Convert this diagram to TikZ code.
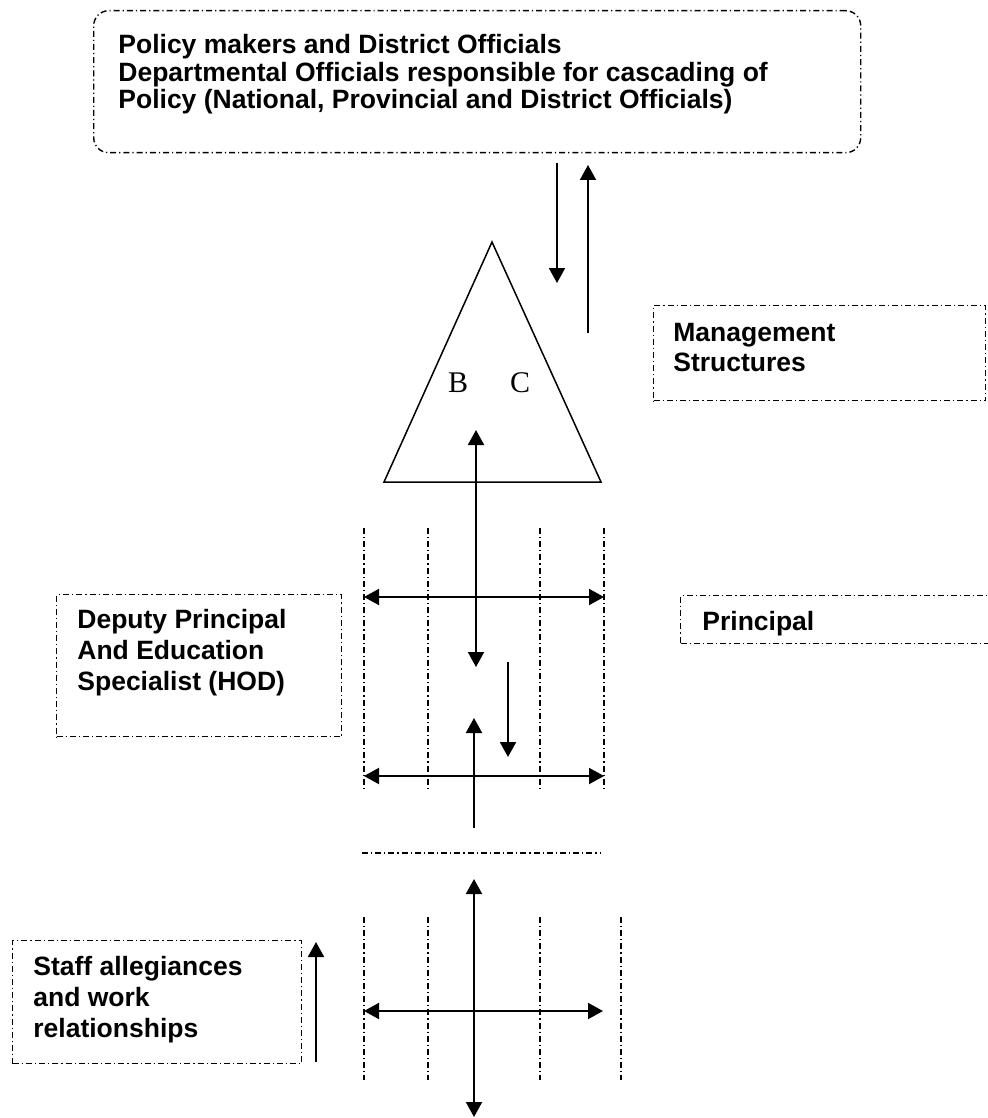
\documentclass[tikz,border=0pt]{standalone}
\usepackage{fontspec}
\setmainfont{Liberation Sans}
\newfontfamily\letterfont{Liberation Serif}
\usetikzlibrary{arrows.meta}
\begin{document}
\begin{tikzpicture}[x=0.5pt,y=-0.5pt,
		dashdot/.style={line width=0.7pt,dash pattern=on 3pt off 1.5pt on 0.6pt off 1.5pt},
		dotbox/.style={draw,dashdot,inner sep=0pt,anchor=north west},
		txt/.style={font=\bfseries\fontsize{13.25}{15.5}\selectfont,align=left,inner sep=0pt,anchor=north west},
		letter/.style={font=\letterfont\fontsize{15}{18}\selectfont,inner sep=0pt},
		arr/.style={line width=1pt,-{Triangle[length=7.5pt,width=8pt]}},
		dblarr/.style={line width=1pt,{Triangle[length=7.5pt,width=8pt]}-{Triangle[length=7.5pt,width=8pt]}}]
	\useasboundingbox (0,0) rectangle (988,1118);
	\clip (0,0) rectangle (988,1118);
	\node[dotbox,rounded corners=7.5pt,minimum width=383.5pt,minimum height=71pt] (policybox) at (93,10) {};
	\node[txt,font=\bfseries\fontsize{13.25}{13.85}\selectfont] (policytext) at (118,34) {Policy makers and District Officials\\Departmental Officials responsible for cascading of\\Policy (National, Provincial and District Officials)};
	\node[dotbox,minimum width=166pt,minimum height=47.5pt] (mgmtbox) at (653,305) {};
	\node[txt,font=\bfseries\fontsize{13.25}{15}\selectfont] (mgmttext) at (673,323) {Management\\Structures};
	\node[dotbox,minimum width=142.5pt,minimum height=71pt] (deputybox) at (56,594) {};
	\node[txt] (deputytext) at (77,609) {Deputy Principal\\And Education\\Specialist (HOD)};
	\node[dotbox,minimum width=156pt,minimum height=24pt] (principalbox) at (680,595) {};
	\node[txt] (principaltext) at (702,611) {Principal};
	\node[dotbox,minimum width=144.5pt,minimum height=61.5pt] (staffbox) at (12,940) {};
	\node[txt] (stafftext) at (33,956) {Staff allegiances\\and work\\relationships};
	\draw[line width=0.75pt] (492,242)--(601,482)--(384,482)--cycle;
	\node[letter] (b) at (458,383) {B};
	\node[letter] (c) at (520,383) {C};
	\path
	(557,163) coordinate (downtop) (557,283) coordinate (downend)
	(588,333) coordinate (upstart) (588,165) coordinate (uptip)
	(476,430) coordinate (midtop) (476,667) coordinate (midend)
	(364,597) coordinate (rowaleft) (604,597) coordinate (rowaright)
	(508,662) coordinate (dropstart) (508,757) coordinate (droptip)
	(474,828) coordinate (risestart) (474,718) coordinate (risetip)
	(364,776) coordinate (rowbleft) (604,776) coordinate (rowbright)
	(474,879) coordinate (lowtop) (474,1117) coordinate (lowend)
	(364,1011) coordinate (rowcleft) (603,1011) coordinate (rowcright)
	(316,1062) coordinate (staffstart) (316,942) coordinate (stafftip)
	;
	\draw[arr] (downtop)--(downend);
	\draw[arr] (upstart)--(uptip);
	\draw[dblarr] (midtop)--(midend);
	\draw[dblarr] (rowaleft)--(rowaright);
	\draw[arr] (dropstart)--(droptip);
	\draw[arr] (risestart)--(risetip);
	\draw[dblarr] (rowbleft)--(rowbright);
	\draw[dblarr] (lowtop)--(lowend);
	\draw[dblarr] (rowcleft)--(rowcright);
	\draw[arr] (staffstart)--(stafftip);
	\foreach \x in {364,428,540,604}
	\draw[dashdot] (\x,528)--(\x,790);
	\draw[dashdot] (362,853)--(600,853);
	\foreach \x in {364,428,540,621}
	\draw[dashdot] (\x,917)--(\x,1080);
\end{tikzpicture}
\end{document}
